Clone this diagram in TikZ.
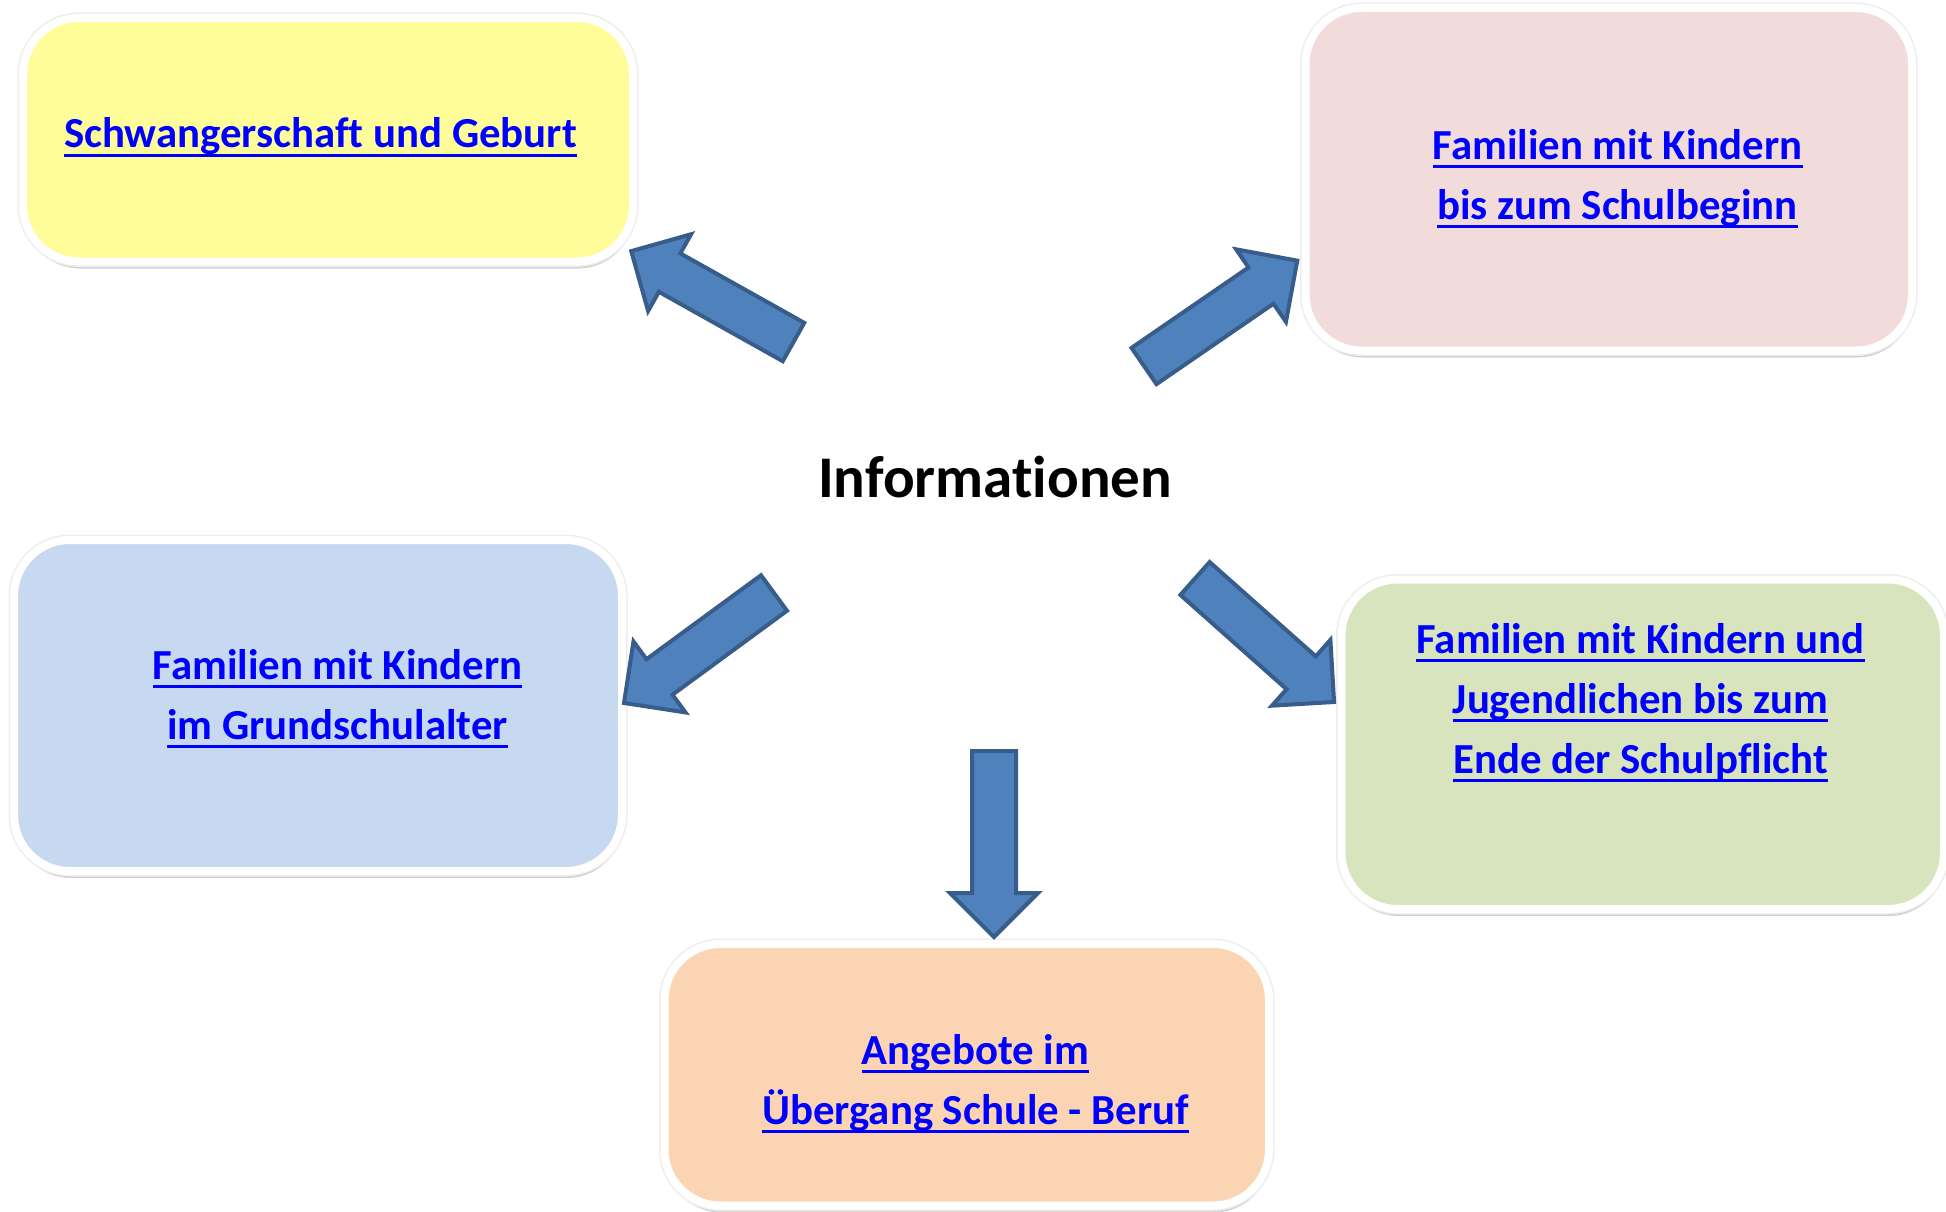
\documentclass[tikz,border=0pt]{standalone}
\usepackage{fontspec}
\setmainfont{Carlito}[Ligatures=NoCommon]
\usetikzlibrary{shadows}
\definecolor{boxyellow}{HTML}{FFFD99}
\definecolor{boxpink}{HTML}{F2DCDB}
\definecolor{boxblue}{HTML}{C6D9F1}
\definecolor{boxgreen}{HTML}{D7E4BD}
\definecolor{boxorange}{HTML}{FBD4B4}
\definecolor{arrowfill}{HTML}{4F81BD}
\definecolor{arrowline}{HTML}{385D8A}
\definecolor{linkblue}{HTML}{0000FF}
\newcommand{\underlinenode}[1]{\draw[ulinestyle] ([yshift=-7.5pt]#1.base west) -- ([yshift=-7.5pt]#1.base east);}
\begin{document}
\begin{tikzpicture}[x=1pt,y=-1pt,
  infobox/.style={rectangle, rounded corners=56pt, draw=white, line width=8pt,
    inner sep=0pt,
    drop shadow={shadow xshift=1pt, shadow yshift=-7pt, opacity=0.18, fill=black},
    drop shadow={shadow xshift=0.5pt, shadow yshift=-4pt, opacity=0.22, fill=black},
    preaction={draw=black!7, line width=11pt}},
  linktext/.style={font=\fontsize{42.8}{60}\selectfont\bfseries, text=linkblue,
    anchor=base, inner sep=0pt},
  ulinestyle/.style={draw=linkblue, line width=3pt},
  titletext/.style={font=\fontsize{59}{66}\selectfont\bfseries, text=black,
    anchor=base, inner sep=0pt},
  arrowshape/.style={fill=arrowfill, draw=arrowline, line width=4pt},
  blockarrow/.pic={\path[arrowshape] (0,-22) -- (142,-22) -- (142,-44) -- (186,0)
    -- (142,44) -- (142,22) -- (0,22) -- cycle;}
]
\useasboundingbox (0,0) rectangle (1946,1212);

% boxes
\node[infobox, fill=boxyellow, minimum width=610pt, minimum height=243.5pt] (A) at (328,139.75) {};
\node[infobox, fill=boxpink, minimum width=606.5pt, minimum height=342.5pt] (B) at (1608.75,179.25) {};
\node[infobox, fill=boxblue, minimum width=608pt, minimum height=331pt] (C) at (318,705.5) {};
\node[infobox, fill=boxgreen, minimum width=602.5pt, minimum height=329.5pt] (D) at (1642.75,744.25) {};
\node[infobox, fill=boxorange, minimum width=604.5pt, minimum height=261.5pt] (E) at (966.75,1074.75) {};

% texts
\node[linktext] (A1) at (320.5,148) {Schwangerschaft und Geburt};
\node[linktext] (B1) at (1617.5,159) {Familien mit Kindern};
\node[linktext] (B2) at (1617.5,219) {bis zum Schulbeginn};
\node[linktext] (C1) at (337.5,679) {Familien mit Kindern};
\node[linktext] (C2) at (337.5,739) {im Grundschulalter};
\node[linktext] (D1) at (1640.5,653) {Familien mit Kindern und};
\node[linktext] (D2) at (1640.5,713) {Jugendlichen bis zum};
\node[linktext] (D3) at (1640.5,773) {Ende der Schulpflicht};
\node[linktext] (E1) at (975.5,1064) {Angebote im};
\node[linktext] (E2) at (975.5,1124) {Übergang Schule - Beruf};
\foreach \n in {A1,B1,B2,C1,C2,D1,D2,D3,E1,E2} {\underlinenode{\n}}

\node[titletext] (T) at (995,497) {Informationen};

% arrows
\coordinate (tA) at (793.5,342);
\coordinate (tB) at (1144,366);
\coordinate (tC) at (774,593);
\coordinate (tD) at (1195,578.5);
\coordinate (tE) at (994,751);
\pic[rotate=150.75] at (tA) {blockarrow};
\pic[rotate=34.5] at (tB) {blockarrow};
\pic[rotate=216.25] at (tC) {blockarrow};
\pic[rotate=-41.6] at (tD) {blockarrow};
\pic[rotate=-90] at (tE) {blockarrow};
\end{tikzpicture}
\end{document}
